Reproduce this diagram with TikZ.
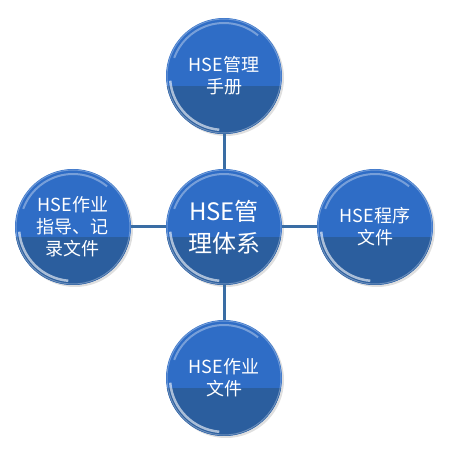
\documentclass[tikz,border=0pt]{standalone}
\usepackage{fontspec}
\setmainfont{Noto Sans CJK SC}
\usetikzlibrary{positioning,shadows}

\definecolor{balltop}{HTML}{2F6DC6}
\definecolor{ballbot}{HTML}{2B5E9E}
\definecolor{linkblue}{HTML}{3A6DA4}

\tikzset{
  ball/.style={circle, minimum size=116pt, inner sep=0pt, outer sep=0pt,
    fill=balltop, text=white, align=center, font=\fontsize{18}{22}\selectfont,
    drop shadow={opacity=.25, shadow xshift=2pt, shadow yshift=-2pt},
    path picture={
      \fill[ballbot] ([yshift=-10pt]path picture bounding box.west) rectangle (path picture bounding box.south east);
      \draw[white, opacity=.35, line width=2pt] (path picture bounding box.center) ++(50:53pt) arc (50:160:53pt);
      \draw[white, opacity=.6, line width=2.5pt] (path picture bounding box.center) ++(185:54pt) arc (185:265:54pt);
      \draw[white, opacity=.3, line width=1pt] (path picture bounding box.center) circle (57pt);
    }},
  link/.style={draw=linkblue, line width=3pt}
}

\begin{document}
\begin{tikzpicture}[node distance=35pt]

                \useasboundingbox (0,0) rectangle (450pt,456pt);

                \node[ball, font=\fontsize{24}{32}\selectfont] (hse) at (224pt,229pt) {HSE管\\理体系};

                \node[ball] (manual) [above=of hse] {HSE管理\\手册};

                \node[ball] (guide) [left=of hse] {HSE作业\\指导、记\\录文件};

                \node[ball] (proc) [right=of hse] {HSE程序\\文件};

                \node[ball] (work) [below=of hse] {HSE作业\\文件};

                \foreach \to in {manual, guide, proc, work}
                    {
                    \path[link] (hse) -- (\to);
                    }

            \end{tikzpicture}
\end{document}
